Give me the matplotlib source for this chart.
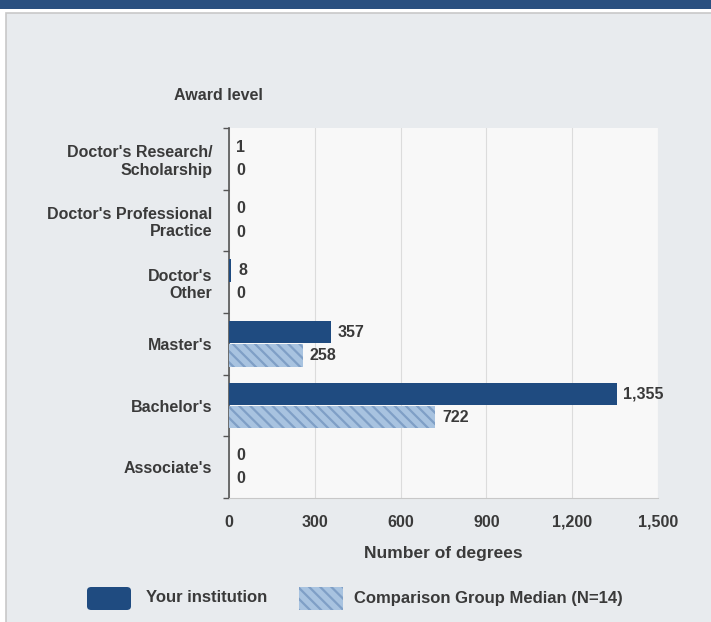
import matplotlib.pyplot as plt
from matplotlib.patches import Rectangle, FancyBboxPatch
import numpy as np

plt.rcParams['font.family'] = ['Liberation Sans', 'DejaVu Sans']
plt.rcParams['hatch.linewidth'] = 1.6

categories = ["Doctor's Research/\nScholarship", "Doctor's Professional\nPractice",
              "Doctor's\nOther", "Master's", "Bachelor's", "Associate's"]
your_inst = [1, 0, 8, 357, 1355, 0]
comparison = [0, 0, 0, 258, 722, 0]
x_ticks = [0, 300, 600, 900, 1200, 1500]
x_tick_labels = ["0", "300", "600", "900", "1,200", "1,500"]

dark = '#1f4b80'
light = '#a8c3e0'
hatch_col = '#7f9fc6'
txt = '#3a3a3a'
fs = 11.5

fig = plt.figure(figsize=(7.11, 6.22), dpi=100)
fig.patch.set_facecolor('white')

# header band and outer panel
fig.patches.append(Rectangle((0, 1 - 9 / 622), 1, 9 / 622, transform=fig.transFigure,
                             facecolor='#2a5080', edgecolor='none', zorder=-10))
fig.patches.append(Rectangle((6 / 711, -0.01), 1.0, 1 - 13 / 622 + 0.01, transform=fig.transFigure,
                             facecolor='#e8ebee', edgecolor='#c8c8c8', linewidth=1.2, zorder=-10))

ax = fig.add_axes([229 / 711, 1 - 498 / 622, 429 / 711, 370 / 622])
ax.set_facecolor('#f8f8f8')

y = np.arange(len(categories))
h = 0.36
off = 0.19
ax.barh(y - off, your_inst, height=h, color=dark, linewidth=0, zorder=3)
ax.barh(y + off, comparison, height=h, color=light, edgecolor=hatch_col,
        hatch='\\\\\\', linewidth=0, zorder=3)

for yi, v in zip(y, your_inst):
    ax.annotate(f"{v:,}", (v, yi - off), xytext=(5, 0), textcoords='offset points',
                va='center', ha='left', fontsize=fs, color=txt, fontweight='bold')
for yi, v in zip(y, comparison):
    ax.annotate(f"{v:,}", (v, yi + off), xytext=(5, 0), textcoords='offset points',
                va='center', ha='left', fontsize=fs, color=txt, fontweight='bold')

ax.set_xlim(0, 1500)
ax.set_ylim(len(categories) - 0.5, -0.5)
ax.set_xticks(x_ticks)
ax.set_xticklabels(x_tick_labels)
ax.set_yticks(y)
ax.set_yticklabels(categories, ha='right', multialignment='right')
ax.tick_params(axis='y', length=0, pad=12, labelsize=fs, labelcolor=txt)
ax.tick_params(axis='x', length=0, pad=12, labelsize=fs, labelcolor=txt)
for lab in ax.get_yticklabels() + ax.get_xticklabels():
    lab.set_fontweight('bold')
ax.set_yticks(np.arange(len(categories) + 1) - 0.5, minor=True)
ax.tick_params(axis='y', which='minor', length=4, color='#555555', width=1)

ax.grid(axis='x', color='#dcdcdc', linewidth=0.8, zorder=0)
for s in ['top', 'right']:
    ax.spines[s].set_visible(False)
ax.spines['left'].set_color('#555555')
ax.spines['left'].set_linewidth(1.2)
ax.spines['bottom'].set_color('#c8c8c8')

ax.set_xlabel('Number of degrees', fontsize=12.5, fontweight='bold', color=txt, labelpad=12)
fig.text(218 / 711, 1 - 95 / 622, 'Award level', ha='center', va='center',
         fontsize=fs, fontweight='bold', color=txt)

# legend
fig.patches.append(FancyBboxPatch((87 / 711, 1 - 610 / 622), 44 / 711, 23 / 622,
                                  boxstyle='round,pad=0,rounding_size=0.006',
                                  transform=fig.transFigure, facecolor=dark, edgecolor='none'))
fig.patches.append(Rectangle((299 / 711, 1 - 610 / 622), 44 / 711, 23 / 622,
                             transform=fig.transFigure, facecolor=light, edgecolor=hatch_col,
                             hatch='\\\\\\', linewidth=0))
fig.text(146 / 711, 1 - 598 / 622, 'Your institution', ha='left', va='center',
         fontsize=12, fontweight='bold', color=txt)
fig.text(354 / 711, 1 - 598 / 622, 'Comparison Group Median (N=14)', ha='left', va='center',
         fontsize=12, fontweight='bold', color=txt)

fig.savefig('out.png', dpi=100)
